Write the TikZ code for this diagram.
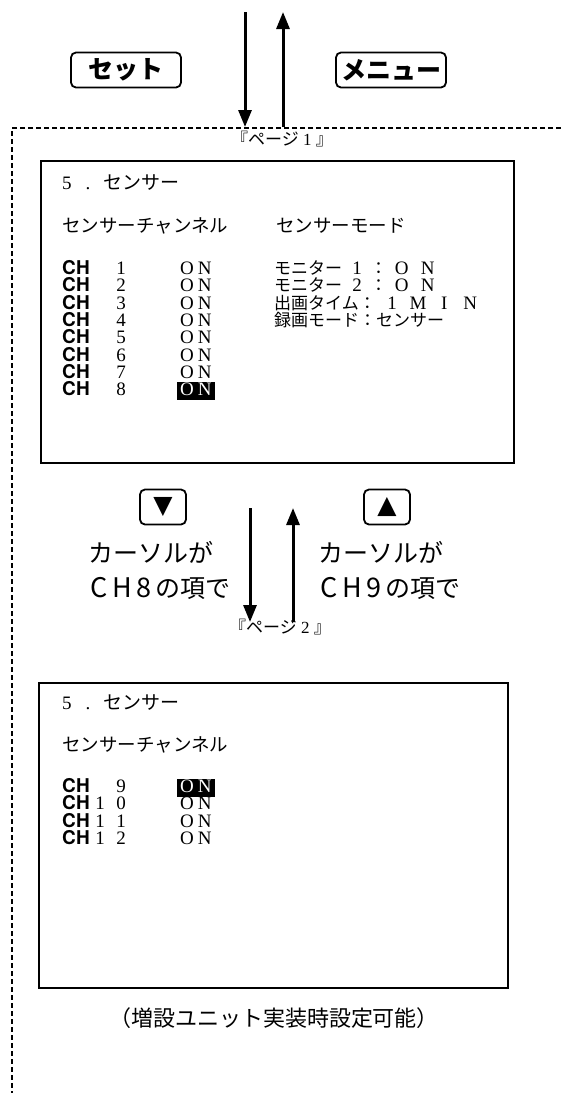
\documentclass[tikz,border=0pt]{standalone}
\usepackage{fontspec}
\setmainfont{Liberation Serif}
\newfontfamily\jp{Noto Sans CJK JP}
\newfontfamily\lsans{TeX Gyre Heros}
\newfontfamily\djv{DejaVu Sans}
\usetikzlibrary{arrows.meta}
\newcommand{\cellx}[1]{\makebox[26pt][c]{#1}}
\newcommand{\cellp}[1]{\makebox[17pt][c]{#1}}
\newcommand{\jcell}[2]{\makebox[#1][l]{\jp\fontsize{17}{18}\selectfont #2}}
\newcommand{\bcell}[1]{\makebox[22.5pt][c]{\fontsize{27}{28}\selectfont #1}}
\begin{document}
\begin{tikzpicture}[x=1pt,y=-1pt,
  tx/.style={inner sep=0pt, anchor=base west, text height=13pt, text depth=3pt, font=\fontsize{19}{20}\selectfont},
  jpt/.style={inner sep=0pt, anchor=base west, text height=13pt, text depth=3pt, font=\jp\fontsize{18.5}{20}\selectfont},
  cht/.style={inner sep=0pt, anchor=base west, text height=13pt, text depth=3pt, font=\lsans\bfseries\fontsize{19}{20}\selectfont},
  numt/.style={inner sep=0pt, anchor=base, text height=13pt, text depth=3pt, font=\fontsize{19}{20}\selectfont},
  hl/.style={fill=black, text=white, inner xsep=3pt, inner ysep=0pt, text height=14pt, text depth=4pt, anchor=base west, font=\fontsize{19}{20}\selectfont},
  screen/.style={draw, line width=2.3pt, anchor=north west, inner sep=0pt},
  btn/.style={draw, line width=1.8pt, rounded corners=5pt, inner sep=0pt},
  arr/.style={line width=3pt, -{Triangle[length=17pt,width=13pt]}},
  big/.style={inner sep=0pt, anchor=base west, font=\jp\fontsize{25}{27}\selectfont},
  pagelbl/.style={inner sep=0pt, font=\fontsize{17}{19}\selectfont},
  frame/.style={dash pattern=on 5pt off 3pt, line width=1.4pt}
]
\useasboundingbox (0,0) rectangle (561,1093);

% dashed frame
\coordinate (fr) at (561,128);
\coordinate (fc) at (12,128);
\coordinate (fb) at (12,1093);
\draw[frame] (fr) -- (fc) -- (fb);

% top arrows and buttons
\coordinate (a1s) at (245,12);
\coordinate (a1e) at (245,127);
\coordinate (a2s) at (283,127);
\coordinate (a2e) at (283,12);
\draw[arr] (a1s) -- (a1e);
\draw[arr] (a2s) -- (a2e);
\node[btn, minimum width=110pt, minimum height=35pt, font=\jp\bfseries\fontsize{25}{27}\selectfont] (set) at (126,70) {セット};
\node[btn, minimum width=110pt, minimum height=35pt, font=\jp\bfseries\fontsize{25}{27}\selectfont] (menu) at (391,70) {メニュー};

\node[pagelbl] (p1) at (282,139) {{\jp 『ページ}\cellp{1}{\jp 』}};

% screen 1
\node[screen, minimum width=473pt, minimum height=302pt] (scr1) at (40,160) {};
\node[tx] (t1) at (62,189.5) {5\hspace{14pt}.\hspace{13pt}{\jp センサー}};
\node[jpt] (t2) at (62,232.5) {センサーチャンネル};
\node[jpt] (t3) at (276,232.5) {センサーモード};
\foreach \i in {1,...,7}{
  \pgfmathsetmacro{\yy}{268+17.3*(\i-1)+6.5}
  \node[cht] (ch\i) at (62,\yy) {CH};
  \node[numt] (n\i) at (121,\yy) {\i};
  \node[tx] (on\i) at (180,\yy) {O\kern4pt N};
}
\pgfmathsetmacro{\yy}{268+17.3*7+6.5}
\node[cht] (ch8) at (62,\yy) {CH};
\node[numt] (n8) at (121,\yy) {8};
\node[hl] (on8) at (177,\yy) {O\kern4pt N};

\node[tx] (m1) at (274,274.5) {\jcell{70pt}{モニター}\cellx{1}\jcell{18.5pt}{：}\cellx{O}\cellx{N}};
\node[tx] (m2) at (274,291.8) {\jcell{70pt}{モニター}\cellx{2}\jcell{18.5pt}{：}\cellx{O}\cellx{N}};
\node[tx] (m3) at (274,309.1) {\jcell{105pt}{出画タイム：}\cellx{1}\cellx{M}\cellx{I}\cellx{N}};
\node[tx] (m4) at (274,326.4) {\jcell{185pt}{録画モード：センサー}};

% middle
\node[btn, minimum width=46pt, minimum height=35pt, font=\djv\fontsize{25}{25}\selectfont] (kdn) at (163,507) {▼};
\node[btn, minimum width=46pt, minimum height=35pt, font=\djv\fontsize{25}{25}\selectfont] (kup) at (387,507) {▲};
\coordinate (b1s) at (250,508);
\coordinate (b1e) at (250,622);
\coordinate (b2s) at (293,622);
\coordinate (b2e) at (293,508);
\draw[arr] (b1s) -- (b1e);
\draw[arr] (b2s) -- (b2e);
\node[big] (l1) at (88,562) {カーソルが};
\node[big] (l2) at (88,597) {\bcell{C}\bcell{H}\bcell{8}の項で};
\node[big] (r1) at (318,562) {カーソルが};
\node[big] (r2) at (318,597) {\bcell{C}\bcell{H}\bcell{9}の項で};
\node[pagelbl] (p2) at (280,627) {{\jp 『ページ}\cellp{2}{\jp 』}};

% screen 2
\node[screen, minimum width=469pt, minimum height=305pt] (scr2) at (38,682) {};
\node[tx] (u1) at (62,709.5) {5\hspace{14pt}.\hspace{13pt}{\jp センサー}};
\node[jpt] (u2) at (62,751.5) {センサーチャンネル};
\node[cht] (ch9) at (62,792.5) {CH};
\node[numt] (n9) at (121,792.5) {9};
\node[hl] (on9) at (177,792.5) {O\kern4pt N};
\foreach \i/\d in {10/0,11/1,12/2}{
  \pgfmathsetmacro{\yy}{786+17.3*(\i-9)+6.5}
  \node[cht] (ch\i) at (62,\yy) {CH};
  \node[numt] (na\i) at (100,\yy) {1};
  \node[numt] (nb\i) at (121,\yy) {\d};
  \node[tx] (on\i) at (180,\yy) {O\kern4pt N};
}

\node[inner sep=0pt, font=\jp\fontsize{22}{24}\selectfont] (note) at (274,1018) {（増設ユニット実装時設定可能）};
\end{tikzpicture}
\end{document}
